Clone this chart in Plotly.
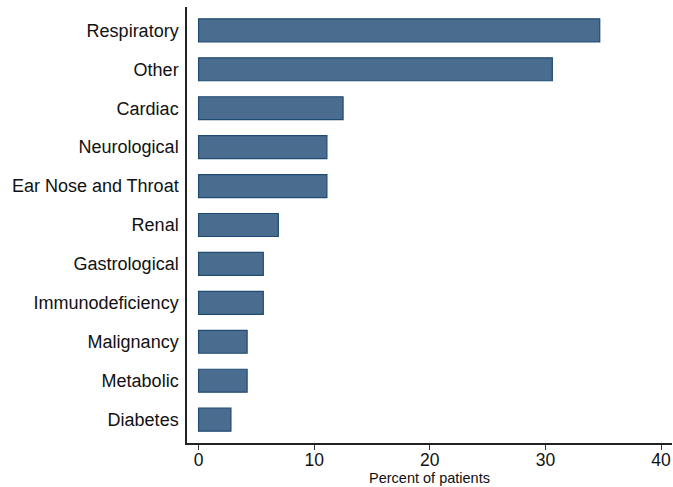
import plotly.graph_objects as go

categories = ["Respiratory", "Other", "Cardiac", "Neurological", "Ear Nose and Throat",
              "Renal", "Gastrological", "Immunodeficiency", "Malignancy", "Metabolic", "Diabetes"]
percents = [34.7, 30.6, 12.5, 11.1, 11.1, 6.9, 5.6, 5.6, 4.2, 4.2, 2.8]
x_ticks = [0, 10, 20, 30, 40]

fig = go.Figure(go.Bar(
    x=percents, y=categories, orientation="h",
    marker=dict(color="#4a6c8e", line=dict(color="#1f4b73", width=1.2)),
))
fig.update_layout(
    width=673, height=487,
    margin=dict(l=187, r=1, t=7, b=44, autoexpand=False),
    paper_bgcolor="white", plot_bgcolor="white",
    bargap=0.41, showlegend=False,
    font=dict(family="Liberation Sans, Arial, sans-serif", color="#111111"),
)
fig.update_xaxes(
    range=[-1, 40.95], tickvals=x_ticks, ticks="outside", ticklen=5, tickwidth=1.2,
    tickcolor="#333", showline=True, linecolor="#222", linewidth=1.5,
    showgrid=False, zeroline=False, tickfont=dict(size=17.5), automargin=False,
    ticklabelstandoff=-5,
    title=dict(text="Percent of patients", font=dict(size=14.5), standoff=0),
)
fig.update_yaxes(
    categoryorder="array", categoryarray=categories[::-1], range=[-0.6, 10.6],
    showline=True, linecolor="#222", linewidth=1.5, ticks="", showgrid=False,
    tickfont=dict(size=18), ticklabelstandoff=3, automargin=False,
)
fig.write_html("out.html", config={"displayModeBar": False},
               post_script="document.body.style.margin='0';document.body.style.overflow='hidden';")
